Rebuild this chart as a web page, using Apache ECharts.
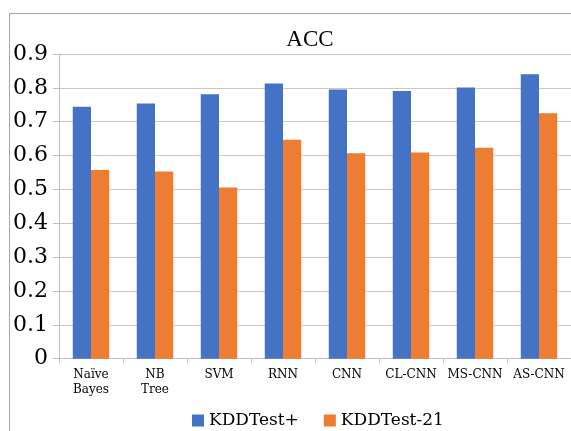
<!DOCTYPE html>
<html>
<head>
<meta charset="utf-8">
<script src="https://cdn.jsdelivr.net/npm/echarts@6/dist/echarts.min.js"></script>
<style>html,body{margin:0;padding:0;background:#fff;}#c{width:571px;height:431px;}</style>
</head>
<body>
<div id="c"></div>
<script>
const categories = ['Naïve\nBayes', 'NB\nTree', 'SVM', 'RNN', 'CNN', 'CL-CNN', 'MS-CNN', 'AS-CNN'];
const kddTestPlus = [0.744, 0.754, 0.781, 0.813, 0.795, 0.791, 0.801, 0.840];
const kddTest21 = [0.557, 0.553, 0.506, 0.647, 0.607, 0.609, 0.623, 0.725];
const yMin = 0, yMax = 0.9, yStep = 0.1;
const seriesNames = ['KDDTest+', 'KDDTest-21'];

const serif = 'DejaVu Serif';
const chart = echarts.init(document.getElementById('c'), null, {renderer: 'canvas'});
chart.setOption({
  backgroundColor: '#fff',
  animation: false,
  title: {
    text: 'ACC', left: 305, top: 23, textAlign: 'center',
    textStyle: {fontFamily: 'Liberation Serif', fontSize: 23, fontWeight: 'normal', color: '#000'}
  },
  graphic: [{
    type: 'rect', silent: true,
    shape: {x: 9.5, y: 13.5, width: 700, height: 600},
    style: {fill: 'none', stroke: '#a6a6a6', lineWidth: 1}
  }],
  legend: {
    data: seriesNames, left: 187, top: 407, icon: 'rect',
    itemWidth: 12, itemHeight: 12, itemGap: 25,
    textStyle: {fontFamily: serif, fontSize: 17, color: '#000'}
  },
  grid: {left: 59, top: 54, width: 517, height: 304.7},
  xAxis: {
    type: 'category', data: categories,
    axisLine: {lineStyle: {color: '#bfbfbf'}},
    axisTick: {show: true, length: 4, lineStyle: {color: '#bfbfbf'}},
    axisLabel: {fontFamily: serif, fontSize: 12, color: '#000', margin: 9, lineHeight: 14.5, interval: 0}
  },
  yAxis: {
    type: 'value', min: yMin, max: yMax, interval: yStep,
    axisLine: {show: true, lineStyle: {color: '#bfbfbf'}},
    axisTick: {show: true, length: 6, lineStyle: {color: '#bfbfbf'}},
    splitLine: {lineStyle: {color: '#c8c8c8'}},
    axisLabel: {fontFamily: serif, fontSize: 22, color: '#000', margin: 11,
      formatter: v => v === 0 ? '0' : v.toFixed(1)}
  },
  series: [
    {name: seriesNames[0], type: 'bar', data: kddTestPlus, barGap: '0%', barCategoryGap: '43%',
     itemStyle: {color: '#4472C4'}},
    {name: seriesNames[1], type: 'bar', data: kddTest21, barGap: '0%', barCategoryGap: '43%',
     itemStyle: {color: '#ED7D31'}}
  ]
});
</script>
</body>
</html>
